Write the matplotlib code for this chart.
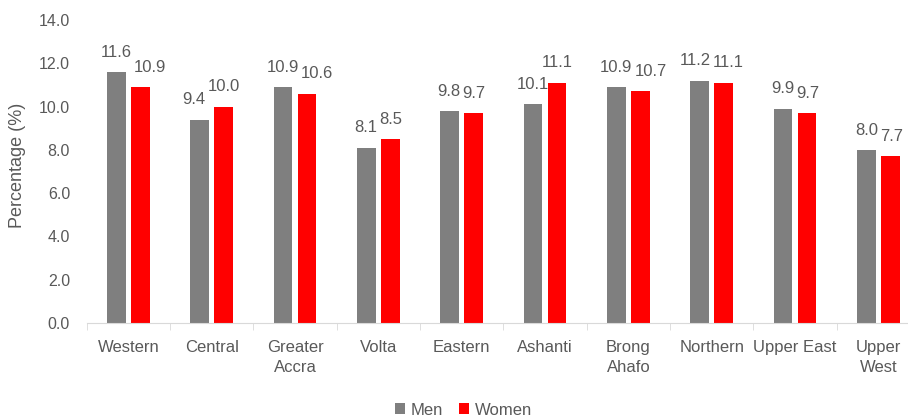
import numpy as np
import matplotlib.pyplot as plt

plt.rcParams["font.family"] = ["Liberation Sans", "DejaVu Sans"]

REGIONES = ["Western", "Central", "Greater\nAccra", "Volta", "Eastern", "Ashanti",
            "Brong\nAhafo", "Northern", "Upper East", "Upper\nWest"]
HOMBRES = [11.6, 9.4, 10.9, 8.1, 9.8, 10.1, 10.9, 11.2, 9.9, 8.0]
MUJERES = [10.9, 10.0, 10.6, 8.5, 9.7, 11.1, 10.7, 11.1, 9.7, 7.7]

GRIS_TEXTO = "#595959"
DPI = 100

fig = plt.figure(figsize=(9.08, 4.18), dpi=DPI)
# el area de trazado sobresale un poco por la derecha, como en el original
ax = fig.add_axes([0.0955, 0.2273, 0.9178, 0.7249])

x = np.arange(len(REGIONES))
ancho = 0.222
b1 = ax.bar(x - 0.144, HOMBRES, ancho, color="#7f7f7f", label="Men")
b2 = ax.bar(x + 0.144, MUJERES, ancho, color="#ff0000", label="Women")


def etiqueta(b):
    h = b.get_height()
    return ax.annotate(f"{h:.1f}", (b.get_x() + b.get_width() / 2, h),
                       xytext=(0, 11), textcoords="offset points",
                       ha="center", va="baseline", fontsize=12, color=GRIS_TEXTO)


etiq_h = [etiqueta(b) for b in b1]
etiq_m = [etiqueta(b) for b in b2]

ax.set_xlim(-0.5, len(REGIONES) - 0.5)
ax.set_ylim(0, 14)
ticks_y = np.arange(0, 14.1, 2)
ax.set_yticks(ticks_y)
ax.set_yticklabels([f"{v:.1f}" for v in ticks_y])
ax.set_xticks(x)
ax.set_xticklabels(REGIONES)
ax.set_xticks(np.arange(-0.5, len(REGIONES), 1), minor=True)
ax.tick_params(axis="x", which="major", length=0, pad=12, labelsize=12, colors=GRIS_TEXTO)
ax.tick_params(axis="x", which="minor", length=5, color="#d9d9d9")
ax.tick_params(axis="y", length=0, pad=12, labelsize=11.5, colors=GRIS_TEXTO)
ax.set_ylabel("Percentage (%)", fontsize=13, color=GRIS_TEXTO)
ax.yaxis.set_label_coords(-0.073, 0.52)

for s in ["top", "right", "left"]:
    ax.spines[s].set_visible(False)
ax.spines["bottom"].set_color("#d9d9d9")

fig.legend(loc="center", bbox_to_anchor=(0.5105, 0.019), ncol=2, frameon=False,
           fontsize=12, handlelength=0.6, handleheight=0.6, columnspacing=1.0,
           handletextpad=0.35, labelcolor=GRIS_TEXTO, borderpad=0)

# separar etiquetas de valor que se pisan (como se hizo a mano en el original)
fig.canvas.draw()
rend = fig.canvas.get_renderer()
for eh, em, vh, vm in zip(etiq_h, etiq_m, HOMBRES, MUJERES):
    bh = eh.get_window_extent(rend)
    bm = em.get_window_extent(rend)
    solapa_v = (bh.y0 - 3 < bm.y1) and (bm.y0 - 3 < bh.y1)
    deficit = bh.x1 + 2 - bm.x0
    if solapa_v and deficit > 0:
        d_pt = deficit * 72 / DPI
        if abs(vh - vm) < 0.15:
            eh.xyann = (-d_pt / 2, 11)
            em.xyann = (d_pt / 2, 11)
        elif vh < vm:
            eh.xyann = (-d_pt, 11)
        else:
            em.xyann = (d_pt, 11)

# interlineado de las etiquetas de dos lineas
for tick in ax.xaxis.get_major_ticks():
    tick.label1.set_linespacing(1.45)

fig.savefig("out.png", dpi=DPI)
